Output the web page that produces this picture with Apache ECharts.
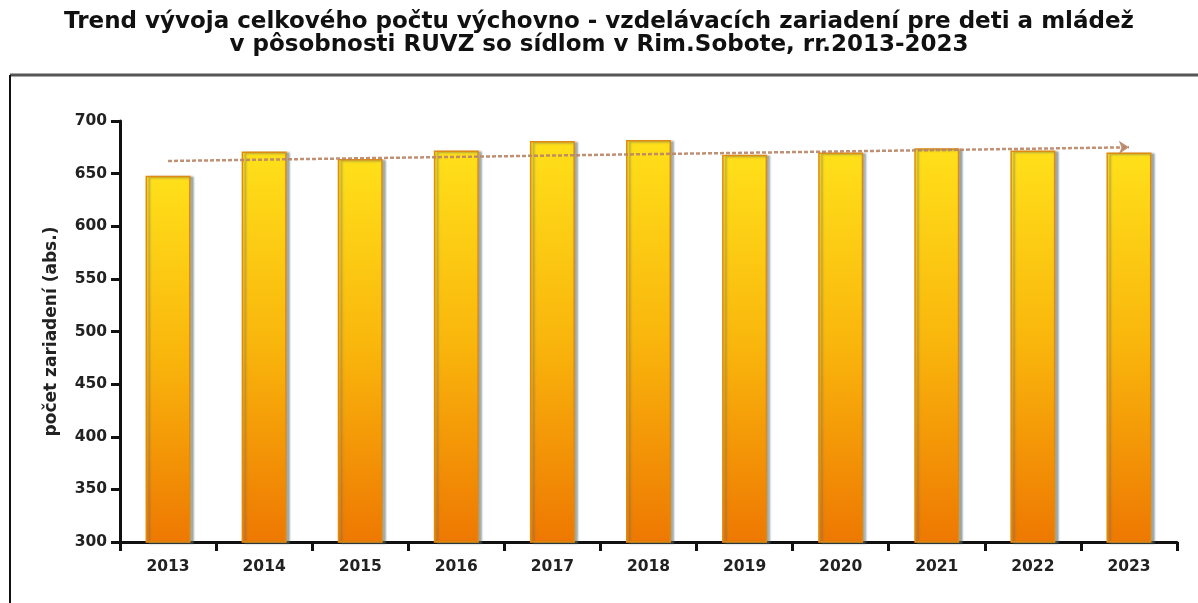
<!DOCTYPE html>
<html>
<head>
<meta charset="utf-8">
<script src="https://cdn.jsdelivr.net/npm/echarts@6/dist/echarts.min.js"></script>
<style>
html,body{margin:0;padding:0;background:#fff;}
#c{width:1198px;height:603px;}
</style>
</head>
<body>
<div id="c"></div>
<script>
const titleLines = ['Trend vývoja celkového počtu výchovno - vzdelávacích zariadení pre deti a mládež', 'v pôsobnosti RUVZ so sídlom v Rim.Sobote, rr.2013-2023'];
const yAxisName = 'počet zariadení (abs.)';
const years = ['2013','2014','2015','2016','2017','2018','2019','2020','2021','2022','2023'];
const counts = [648, 671, 664, 672, 681, 682, 668, 670, 674, 672, 670];
const trendStart = 662;
const trendEnd = 675;

const chart = echarts.init(document.getElementById('c'));
const font = '"DejaVu Sans", Arial, sans-serif';
chart.setOption({
  animation: false,
  backgroundColor: '#fff',
  title: {
    text: titleLines.join('\n'),
    left: 'center',
    top: 6,
    textStyle: { fontFamily: font, fontSize: 23, fontWeight: 'bold', color: '#111', lineHeight: 23 }
  },
  graphic: [
    { type: 'line', shape: { x1: 10, y1: 75, x2: 1198, y2: 75 }, style: { stroke: '#555', lineWidth: 3 } },
    { type: 'line', shape: { x1: 10, y1: 75, x2: 10, y2: 603 }, style: { stroke: '#111', lineWidth: 2 } }
  ],
  grid: { left: 120, right: 21, top: 121, bottom: 61 },
  xAxis: {
    type: 'category',
    data: years,
    axisLine: { lineStyle: { color: '#111', width: 3 } },
    axisTick: { show: true, length: 9, lineStyle: { color: '#111', width: 3 } },
    axisLabel: { fontFamily: font, fontSize: 15.5, fontWeight: 'bold', color: '#222', margin: 17 }
  },
  yAxis: {
    type: 'value',
    min: 300, max: 700, interval: 50,
    name: yAxisName,
    nameLocation: 'middle',
    nameGap: 60,
    nameTextStyle: { fontFamily: font, fontSize: 17, fontWeight: 'bold', color: '#222' },
    axisLine: { show: true, lineStyle: { color: '#111', width: 3 } },
    axisTick: { show: true, length: 9, lineStyle: { color: '#111', width: 3 } },
    axisLabel: { fontFamily: font, fontSize: 15.5, fontWeight: 'bold', color: '#222', margin: 13 },
    splitLine: { show: false }
  },
  series: [
    {
      type: 'bar',
      data: counts,
      barWidth: 45,
      itemStyle: {
        color: new echarts.graphic.LinearGradient(0, 0, 0, 1, [
          { offset: 0, color: '#FFE01A' },
          { offset: 0.5, color: '#F9B50C' },
          { offset: 1, color: '#EE7802' }
        ]),
        borderColor: '#E08A10',
        borderWidth: 1.5,
        shadowColor: 'rgba(90,110,110,0.55)',
        shadowOffsetX: 3,
        shadowOffsetY: 1,
        shadowBlur: 2
      },
      markLine: {
        silent: true,
        symbol: ['none', 'arrow'],
        symbolSize: [10, 10],
        label: { show: false },
        lineStyle: { color: '#B98466', width: 2.5, type: [4, 2], opacity: 0.9 },
        data: [[
          { coord: [years[0], trendStart] },
          { coord: [years[years.length - 1], trendEnd] }
        ]]
      }
    }
  ]
});
</script>
</body>
</html>
